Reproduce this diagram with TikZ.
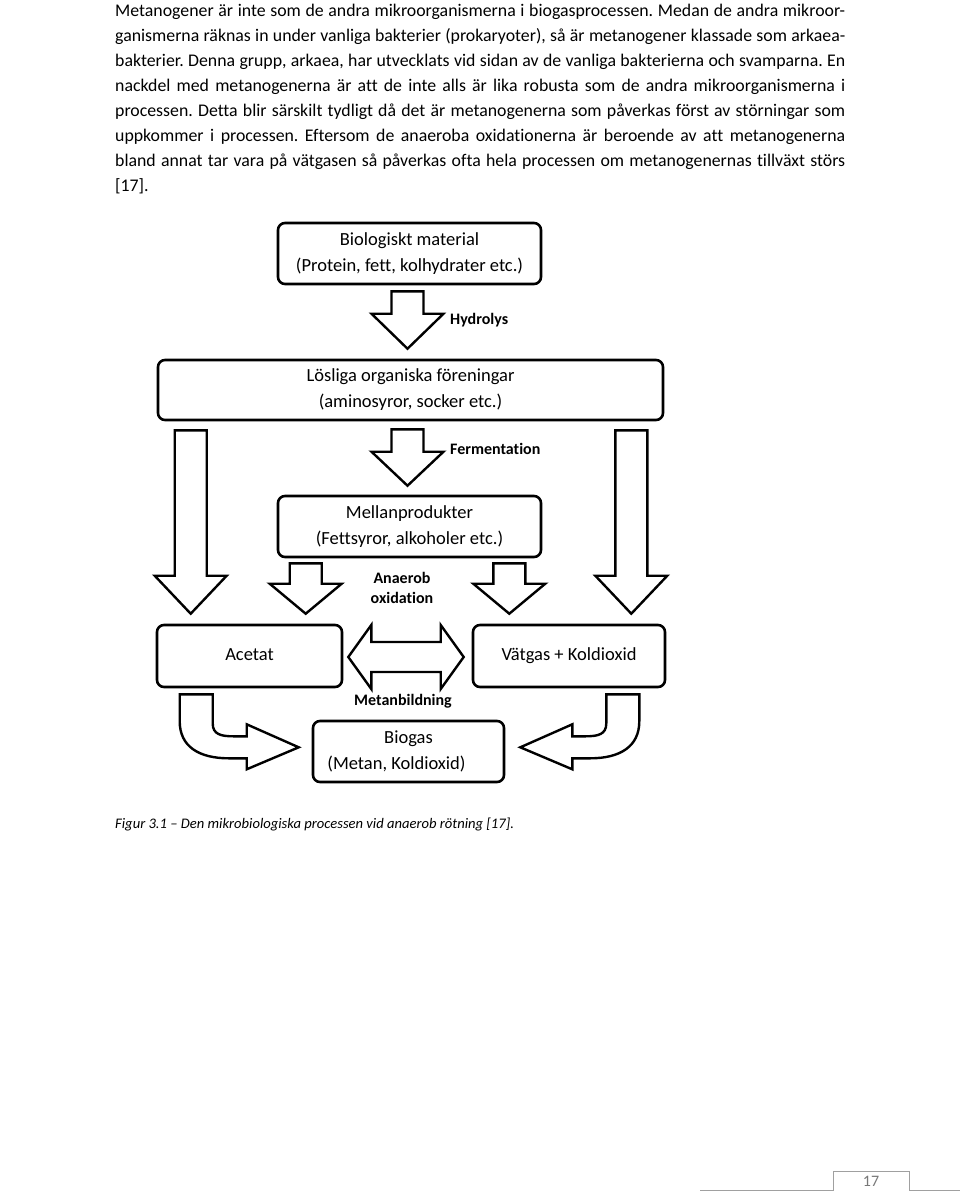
\documentclass[tikz,border=0pt]{standalone}
\usepackage{fontspec}
\setmainfont{Carlito}[Ligatures={TeX,NoCommon}]
\usepackage{tikz}
\usetikzlibrary{calc,positioning}
\definecolor{pagegray}{RGB}{160,160,160}
\definecolor{numgray}{RGB}{120,120,120}

% block arrow pointing down: top, tip, head length
\newcommand{\downblock}[3]{%
  \draw[blockarrow] let \p1=#1, \p2=#2 in
    (\x1-16pt,\y1) -- (\x1-16pt,\y2+#3) -- (\x1-36pt,\y2+#3) -- (\x1,\y2)
    -- (\x1+36pt,\y2+#3) -- (\x1+16pt,\y2+#3) -- (\x1+16pt,\y1) -- cycle;}

% block arrow with two heads: left tip, right tip
\newcommand{\twoblock}[2]{%
  \draw[blockarrow] let \p1=#1, \p2=#2 in
    (\x1,\y1) -- (\x1+23pt,\y1+32pt) -- (\x1+23pt,\y1+15pt) -- (\x2-23pt,\y1+15pt)
    -- (\x2-23pt,\y1+32pt) -- (\x2,\y1) -- (\x2-23pt,\y1-32pt) -- (\x2-23pt,\y1-15pt)
    -- (\x1+23pt,\y1-15pt) -- (\x1+23pt,\y1-32pt) -- cycle;}

\frenchspacing

\begin{document}
\begin{tikzpicture}[
x=1pt, y=-1pt,
every node/.style={inner sep=0pt},
bodyline/.style={anchor=base west, font=\fontsize{17.8}{25}\selectfont},
stage/.style={rectangle, rounded corners=7pt, draw=black, line width=2.6pt, align=center, font=\fontsize{18.5}{26}\selectfont},
steplabel/.style={font=\fontsize{16}{20}\selectfont\bfseries, align=center},
blockarrow/.style={draw=black, line width=2.4pt, line join=miter, fill=white}
]

\useasboundingbox[fill=white] (0,0) rectangle (960,1192);

% Text above the figure

\node[bodyline] (line1) at (115,16) {\makebox[730pt][s]{Metanogener är inte som de andra mikroorganismerna i biogasprocessen. Medan de andra mikroor-}};
\node[bodyline] (line2) at (115,41) {\makebox[730pt][s]{ganismerna räknas in under vanliga bakterier (prokaryoter), så är metanogener klassade som arkaea-}};
\node[bodyline] (line3) at (115,66) {\makebox[730pt][s]{bakterier. Denna grupp, arkaea, har utvecklats vid sidan av de vanliga bakterierna och svamparna. En}};
\node[bodyline] (line4) at (115,91) {\makebox[730pt][s]{nackdel med metanogenerna är att de inte alls är lika robusta som de andra mikroorganismerna i}};
\node[bodyline] (line5) at (115,116) {\makebox[730pt][s]{processen. Detta blir särskilt tydligt då det är metanogenerna som påverkas först av störningar som}};
\node[bodyline] (line6) at (115,141) {\makebox[730pt][s]{uppkommer i processen. Eftersom de anaeroba oxidationerna är beroende av att metanogenerna}};
\node[bodyline] (line7) at (115,166) {\makebox[730pt][s]{bland annat tar vara på vätgasen så påverkas ofta hela processen om metanogenernas tillväxt störs}};
\node[bodyline] (line8) at (115,191) {[17].};

% Stages

\node[stage, minimum width=263pt, minimum height=61pt] (bio) at (409.5,253.5) {Biologiskt material\\(Protein, fett, kolhydrater etc.)};

\node[stage, minimum width=505pt, minimum height=60pt] (los) at (410.5,390) {Lösliga organiska föreningar\\(aminosyror, socker etc.)};

\node[stage, minimum width=263pt, minimum height=61pt] (mell) at (409.5,526.5) {Mellanprodukter\\(Fettsyror, alkoholer etc.)};

\node[stage, minimum width=185pt, minimum height=62pt, text height=13pt, text depth=4pt] (acetat) at (249.5,656) {Acetat};

\node[stage, minimum width=192pt, minimum height=62pt, text height=13pt, text depth=4pt] (vatgas) at (569,656) {Vätgas + Koldioxid};

\node[stage, minimum width=191pt, minimum height=61pt] (biogas) at (408.5,751.5) {Biogas\\(Metan, Koldioxid)\hspace*{24pt}};

% Hydrolys

\downblock{($(bio.south)+(-2,6)$)}{($(los.north)+(-2,-10)$)}{35pt}
\node[steplabel, anchor=west] (hydrolys) at (450,320) {Hydrolys};

% Fermentation

\downblock{($(los.south)+(-3,8)$)}{($(mell.north)+(-3,-9)$)}{34pt}
\node[steplabel, anchor=west] (fermentation) at (450,449) {Fermentation};

% Direct routes to acetat and vatgas

\downblock{($(los.south west)+(34,9)$)}{($(acetat.north west)+(35,-10)$)}{38pt}
\downblock{($(los.south east)+(-33,9)$)}{($(vatgas.north east)+(-35,-10)$)}{38pt}

% Anaerob oxidation

\downblock{($(mell.south west)+(29,5)$)}{($(acetat.north west)+(150,-10)$)}{30pt}
\downblock{($(mell.south east)+(-33,5)$)}{($(vatgas.north west)+(35,-10)$)}{30pt}
\node[steplabel] (oxidation) at (402,588) {Anaerob\\oxidation};

% Acetat <-> Vatgas

\twoblock{($(acetat.east)+(5,1)$)}{($(vatgas.west)+(-8,1)$)}

% Metanbildning

\node[steplabel] (metan) at (403,701) {Metanbildning};

\begin{scope}[shift={(acetat.south west)}]
\draw[blockarrow] (24,6) -- (57,6) -- (57,35) .. controls (57,46) and (65,48) .. (78,48) -- (91,48) -- (91,36) -- (143,59) -- (91,81) -- (91,70) -- (73,70) .. controls (43,70) and (24,58) .. (24,33) -- cycle;
\end{scope}

\begin{scope}[shift={($(vatgas.south east)+(-3,0)$)}, xscale=-1]
\draw[blockarrow] (24,6) -- (57,6) -- (57,35) .. controls (57,46) and (65,48) .. (78,48) -- (91,48) -- (91,36) -- (143,59) -- (91,81) -- (91,70) -- (73,70) .. controls (43,70) and (24,58) .. (24,33) -- cycle;
\end{scope}

% Caption

\node[anchor=base west, font=\fontsize{14.6}{17}\selectfont\itshape] (caption) at (115,828) {Figur 3.1 – Den mikrobiologiska processen vid anaerob rötning [17].};

% Page number

\draw[pagegray, line width=0.8pt] (700,1190) -- (833,1190) -- (833,1171) -- (909,1171) -- (909,1190) -- (960,1190);
\node[font=\fontsize{16}{18}\selectfont, text=numgray] (pagenum) at (871,1181) {17};

\end{tikzpicture}
\end{document}
